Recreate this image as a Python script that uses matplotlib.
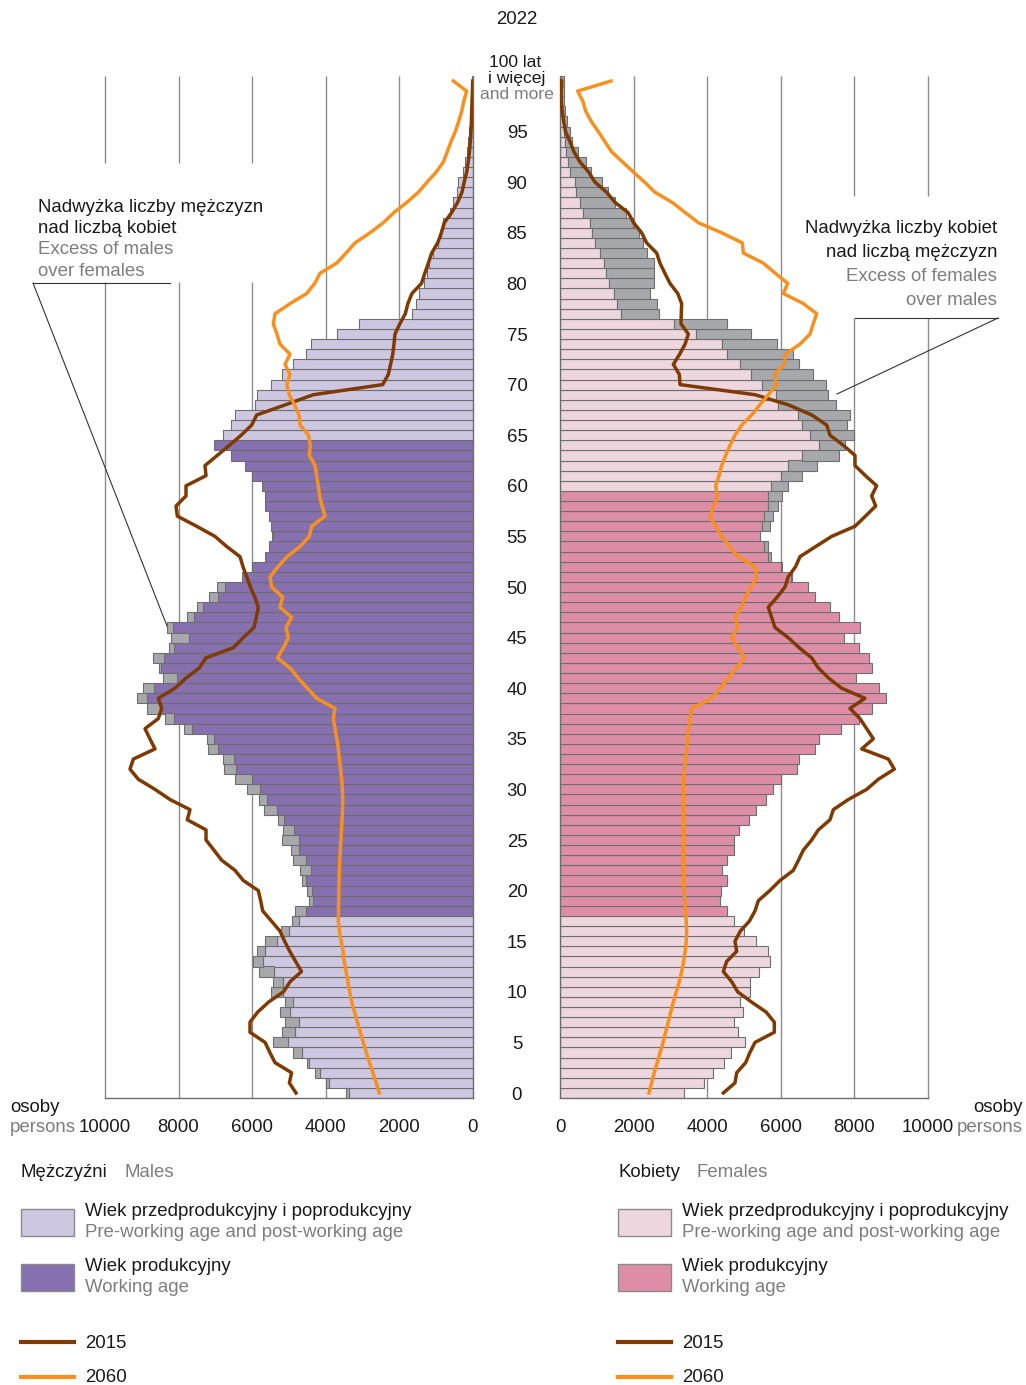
import numpy as np
import matplotlib
matplotlib.use('Agg')
import matplotlib.pyplot as plt
import matplotlib.transforms as mtransforms
from matplotlib.lines import Line2D
from matplotlib.patches import Rectangle

plt.rcParams['font.family'] = ['Liberation Sans', 'DejaVu Sans']

# ---- data ----
ages = np.arange(0, 101)

males_2022 = [3451, 3990, 4293, 4500, 4900, 5425, 5199, 5109, 5245, 5100,
              5480, 5425, 5806, 5969, 5861, 5643, 5217, 4927, 4828, 4447,
              4520, 4638, 4701, 4900, 4954, 5199, 5172, 5290, 5679, 5815,
              6141, 6467, 6758, 6802, 7192, 7237, 7845, 8360, 8868, 9121,
              8976, 8433, 8524, 8687, 8252, 8206, 8306, 7781, 7509, 7174,
              6948, 6286, 6014, 5645, 5530, 5460, 5500, 5552, 5640, 5665,
              5725, 6000, 6190, 6570, 7025, 6790, 6580, 6465, 5925, 5861,
              5500, 5190, 4900, 4525, 4390, 3690, 3090, 1670, 1555, 1455,
              1340, 1260, 1200, 1080, 940, 880, 810, 625, 535, 427,
              395, 280, 220, 170, 130, 100, 80, 60, 50, 30,
              30]

females_2022 = [3366, 3922, 4148, 4466, 4660, 5027, 4832, 4715, 4964, 4900,
                5168, 5150, 5412, 5715, 5652, 5322, 5013, 4715, 4542, 4335,
                4362, 4525, 4406, 4525, 4715, 4737, 4868, 5127, 5335, 5602,
                5792, 6010, 6435, 6508, 6940, 7050, 7640, 8135, 8482, 8870,
                8655, 8055, 8470, 8385, 8115, 7730, 8155, 7570, 7330, 6940,
                6730, 6296, 6040, 5734, 5661, 5435, 5707, 5797, 5933, 6024,
                6187, 6585, 6992, 7582, 7745, 7998, 7790, 7880, 7491, 7274,
                7228, 6884, 6503, 6340, 5906, 5181, 4529, 2699, 2645, 2446,
                2554, 2554, 2563, 2355, 2264, 2147, 1993, 1793, 1490, 1300,
                1140, 840, 700, 480, 330, 260, 200, 140, 110, 100,
                110]

males_2015 = [4810, 4990, 4930, 5380, 5520, 5650, 6060, 6060, 5850, 5550,
              5150, 4970, 4660, 4820, 4980, 5120, 5245, 5480, 5715, 5770,
              5834, 6242, 6467, 6829, 7040, 7255, 7255, 7763, 7690, 8234,
              8640, 9094, 9321, 9230, 8641, 8780, 8913, 8551, 8460, 8551,
              8098, 7799, 7437, 7255, 6513, 6242, 5951, 5890, 5834, 5930,
              6050, 6150, 6250, 6332, 6693, 7011, 7509, 8034, 8070, 7799,
              7799, 7255, 7283, 6950, 6620, 6300, 6014, 5878, 5100, 4339,
              2455, 2301, 2240, 2180, 2147, 2120, 1990, 1840, 1770, 1660,
              1400, 1310, 1214, 1123, 960, 860, 780, 580, 420, 300,
              240, 172, 130, 95, 75, 55, 42, 36, 25, 15,
              8]

females_2015 = [4438, 4755, 4801, 5045, 5160, 5299, 5824, 5824, 5600, 5200,
                4828, 4665, 4438, 4529, 4801, 4755, 4900, 5150, 5299, 5389,
                5700, 5978, 6340, 6480, 6612, 6839, 7020, 7337, 7428, 7835,
                8333, 8650, 9085, 8922, 8198, 8514, 8333, 8150, 7880, 8288,
                7654, 7300, 7020, 6839, 6500, 6200, 5842, 5750, 5661, 5900,
                6114, 6200, 6400, 6522, 6950, 7382, 8016, 8300, 8578, 8469,
                8605, 8300, 8016, 8016, 7700, 7337, 7248, 6840, 6205, 5299,
                3261, 3243, 3080, 3250, 3400, 3487, 3288, 3295, 3306, 3200,
                2989, 2850, 2717, 2627, 2355, 2219, 2000, 1850, 1495, 1268,
                950, 780, 543, 380, 272, 150, 100, 60, 27, 30,
                45]

males_2060 = [2546, 2630, 2720, 2810, 2900, 2980, 3060, 3140, 3220, 3297,
              3350, 3400, 3450, 3500, 3530, 3580, 3630, 3659, 3655, 3650,
              3645, 3640, 3632, 3620, 3605, 3590, 3575, 3560, 3545, 3541,
              3550, 3568, 3600, 3630, 3659, 3700, 3750, 3795, 3750, 4248,
              4500, 4750, 4973, 5317, 5150, 5018, 5082, 4927, 5245, 5172,
              5471, 5516, 5300, 5050, 4700, 4447, 4384, 4022, 4100, 4170,
              4203, 4250, 4293, 4447, 4420, 4470, 4701, 4730, 4850, 4990,
              5063, 4973, 5109, 4973, 5245, 5330, 5426, 5380, 4973, 4520,
              4300, 4158, 3705, 3450, 3207, 2799, 2437, 2150, 1800, 1486,
              1250, 1000, 806, 700, 600, 480, 390, 308, 250, 172,
              535]

females_2060 = [2418, 2490, 2560, 2640, 2720, 2800, 2870, 2940, 3010, 3080,
                3160, 3240, 3306, 3360, 3400, 3430, 3442, 3430, 3410, 3390,
                3370, 3360, 3351, 3350, 3350, 3350, 3350, 3350, 3351, 3351,
                3351, 3360, 3380, 3410, 3440, 3470, 3487, 3530, 3578, 4121,
                4350, 4574, 4800, 5009, 4840, 4665, 4828, 4755, 4937, 5027,
                5200, 5344, 5299, 4846, 4600, 4393, 4230, 4076, 4180, 4284,
                4230, 4320, 4393, 4500, 4620, 4755, 4937, 5208, 5430, 5661,
                5888, 5824, 6096, 6114, 6522, 6793, 6880, 6975, 6612, 6069,
                6187, 5850, 5525, 4982, 4955, 4393, 3759, 3400, 3050, 2582,
                2300, 1993, 1700, 1404, 1220, 1041, 850, 700, 620, 480,
                1386]

xticks = [0, 2000, 4000, 6000, 8000, 10000]
age_labels = list(range(0, 100, 5))

# ---- colours ----
MALE_REST = '#cec7e2'
MALE_WORK = '#8670b0'
FEM_REST = '#eed6df'
FEM_WORK = '#dd8ea6'
EXCESS = '#a6a8ab'
EDGE = '#6e6e6e'
BROWN = '#7f3a02'
ORANGE = '#f7901e'
GRID = '#8c8c8c'
TXT = '#1a1a1a'
TXT2 = '#7d7d7d'
FS = 13.4

W, H = 1026, 1385
fig = plt.figure(figsize=(W / 100, H / 100), dpi=100)


def fx(px):
    return px / W


def fy(py):
    return 1 - py / H


y_top = 1093 - 100.5 * 10.12
y_bot = 1093 + 0.5 * 10.12
ax_m = fig.add_axes([fx(105), fy(y_bot), 368 / W, (y_bot - y_top) / H])
ax_f = fig.add_axes([fx(560), fy(y_bot), 368 / W, (y_bot - y_top) / H])

M = np.array(males_2022)
F = np.array(females_2022)
common = np.minimum(M, F)
m_work = (ages >= 18) & (ages <= 64)
f_work = (ages >= 18) & (ages <= 59)

# gridlines (broken where the notes sit)
for v in xticks[1:]:
    if v >= 6000:
        segs = [(-0.5, 80.1), (91.9, 100.5)]
    else:
        segs = [(-0.5, 100.5)]
    for a, b in segs:
        ax_m.vlines(v, a, b, color=GRID, lw=1, zorder=0.5, clip_on=False)
    if v >= 8000:
        segs = [(-0.5, 76.6), (88.6, 100.5)]
    else:
        segs = [(-0.5, 100.5)]
    for a, b in segs:
        ax_f.vlines(v, a, b, color=GRID, lw=1, zorder=0.5, clip_on=False)

# bars
ax_m.barh(ages, common, height=1, color=np.where(m_work, MALE_WORK, MALE_REST),
          edgecolor=EDGE, linewidth=0.8, zorder=2)
mx = M > F
ax_m.barh(ages[mx], (M - F)[mx], left=common[mx], height=1, color=EXCESS,
          edgecolor=EDGE, linewidth=0.8, zorder=2)

ax_f.barh(ages, common, height=1, color=np.where(f_work, FEM_WORK, FEM_REST),
          edgecolor=EDGE, linewidth=0.8, zorder=2)
fx_ = F > M
ax_f.barh(ages[fx_], (F - M)[fx_], left=common[fx_], height=1, color=EXCESS,
          edgecolor=EDGE, linewidth=0.8, zorder=2)

# 2015 / 2060 lines
ax_m.plot(males_2015, ages, color=BROWN, lw=2.5, zorder=4, solid_joinstyle='round')
ax_m.plot(males_2060, ages, color=ORANGE, lw=2.5, zorder=4, solid_joinstyle='round')
ax_f.plot(females_2015, ages, color=BROWN, lw=2.5, zorder=4, solid_joinstyle='round')
ax_f.plot(females_2060, ages, color=ORANGE, lw=2.5, zorder=4, solid_joinstyle='round')

ax_m.set_xlim(10000, 0)
ax_f.set_xlim(0, 10000)
for ax in (ax_m, ax_f):
    ax.set_ylim(-0.5, 100.5)
    ax.set_xticks([])
    ax.set_yticks([])
    ax.patch.set_alpha(0)
    for s in ax.spines.values():
        s.set_color(EDGE)
        s.set_linewidth(1)
ax_m.spines['top'].set_visible(False)
ax_m.spines['left'].set_visible(False)
ax_f.spines['top'].set_visible(False)
ax_f.spines['right'].set_visible(False)

# tick labels under each axis
for ax in (ax_m, ax_f):
    tr = mtransforms.blended_transform_factory(ax.transData, fig.transFigure)
    for v in xticks:
        ax.text(v, fy(1132), str(v), transform=tr, ha='center', va='baseline',
                fontsize=FS, color=TXT)

fig.text(fx(10), fy(1112), 'osoby', ha='left', va='baseline', fontsize=FS, color=TXT)
fig.text(fx(10), fy(1132), 'persons', ha='left', va='baseline', fontsize=FS, color=TXT2)
fig.text(fx(1023), fy(1112), 'osoby', ha='right', va='baseline', fontsize=FS, color=TXT)
fig.text(fx(1023), fy(1132), 'persons', ha='right', va='baseline', fontsize=FS, color=TXT2)

# age labels in the middle
tr_age = mtransforms.blended_transform_factory(fig.transFigure, ax_m.transData)
for a in age_labels:
    ax_m.text(fx(517), a - 0.66, str(a), transform=tr_age, ha='center', va='baseline',
              fontsize=FS, color=TXT)
fig.text(fx(517), fy(24), '2022', ha='center', va='baseline', fontsize=FS, color=TXT)
fig.text(fx(515), fy(67), '100 lat', ha='center', va='baseline', fontsize=12.6, color=TXT)
fig.text(fx(517), fy(83), 'i więcej', ha='center', va='baseline', fontsize=12.6, color=TXT)
fig.text(fx(517), fy(99), 'and more', ha='center', va='baseline', fontsize=12.6, color=TXT2)

# notes
for txt, yb, col in [('Nadwyżka liczby mężczyzn', 212, TXT), ('nad liczbą kobiet', 233, TXT),
                     ('Excess of males', 254, TXT2), ('over females', 276, TXT2)]:
    fig.text(fx(38), fy(yb), txt, ha='left', va='baseline', fontsize=FS, color=col)
fig.add_artist(Line2D([fx(33), fx(170)], [fy(283), fy(283)], color='#333333', lw=0.8))
fig.add_artist(Line2D([fx(33), fx(167)], [fy(283), fy(626)], color='#333333', lw=0.8))

for txt, yb, col in [('Nadwyżka liczby kobiet', 233, TXT), ('nad liczbą mężczyzn', 257, TXT),
                     ('Excess of females', 281, TXT2), ('over males', 305, TXT2)]:
    fig.text(fx(997), fy(yb), txt, ha='right', va='baseline', fontsize=FS, color=col)
fig.add_artist(Line2D([fx(855), fx(998)], [fy(318), fy(318)], color='#333333', lw=0.8))
fig.add_artist(Line2D([fx(998), fx(837)], [fy(318), fy(394)], color='#333333', lw=0.8))

# legends
for x0, title, sub, c_rest, c_work in [(21, 'Mężczyźni', 'Males', MALE_REST, MALE_WORK),
                                       (618, 'Kobiety', 'Females', FEM_REST, FEM_WORK)]:
    fig.text(fx(x0), fy(1177), title, ha='left', va='baseline', fontsize=FS, color=TXT)
    dx = 103 if x0 < 300 else 78
    fig.text(fx(x0 + dx), fy(1177), sub, ha='left', va='baseline', fontsize=FS, color=TXT2)
    fig.add_artist(Rectangle((fx(x0), fy(1236)), 53 / W, 27 / H, transform=fig.transFigure,
                             facecolor=c_rest, edgecolor='#8a8a8a', lw=1))
    fig.add_artist(Rectangle((fx(x0), fy(1291)), 53 / W, 27 / H, transform=fig.transFigure,
                             facecolor=c_work, edgecolor='#8a8a8a', lw=1))
    tx = x0 + 64
    fig.text(fx(tx), fy(1216), 'Wiek przedprodukcyjny i poprodukcyjny', ha='left',
             va='baseline', fontsize=FS, color=TXT)
    fig.text(fx(tx), fy(1237), 'Pre-working age and post-working age', ha='left',
             va='baseline', fontsize=FS, color=TXT2)
    fig.text(fx(tx), fy(1271), 'Wiek produkcyjny', ha='left', va='baseline', fontsize=FS, color=TXT)
    fig.text(fx(tx), fy(1292), 'Working age', ha='left', va='baseline', fontsize=FS, color=TXT2)
    fig.add_artist(Line2D([fx(x0), fx(x0 + 53)], [fy(1342), fy(1342)], color=BROWN, lw=3))
    fig.add_artist(Line2D([fx(x0), fx(x0 + 53)], [fy(1377), fy(1377)], color=ORANGE, lw=3))
    fig.text(fx(tx), fy(1348), '2015', ha='left', va='baseline', fontsize=FS, color=TXT)
    fig.text(fx(tx), fy(1382), '2060', ha='left', va='baseline', fontsize=FS, color=TXT)

fig.savefig('out.png', dpi=100)
